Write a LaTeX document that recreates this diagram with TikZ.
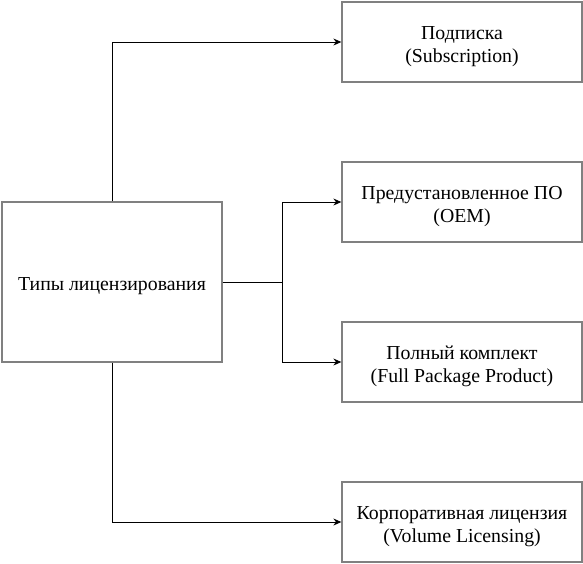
\documentclass[tikz,border=0pt]{standalone}
\usepackage{fontspec}
\setmainfont{Liberation Serif}
\usetikzlibrary{arrows.meta}
\begin{document}
\begin{tikzpicture}[x=1pt,y=-1pt,
  box/.style={draw=black!50, line width=1.3pt, fill=white, minimum width=240pt, minimum height=80pt, inner sep=0pt},
  txt/.style={align=center, inner sep=0pt, yshift=-4.5pt, font=\fontsize{19.8}{23}\selectfont},
  conn/.style={draw=black, line width=1pt, -{Stealth[length=8pt,width=7pt]}},
  link/.style={draw=black, line width=1pt}]
\useasboundingbox (0,0) rectangle (583,563);
\node[box, minimum width=220pt, minimum height=160pt, label={[txt]center:Типы лицензирования}] (main) at (112,282) {};
\node[box, label={[txt]center:Подписка\\(Subscription)}] (sub) at (462,42) {};
\node[box, label={[txt]center:Предустановленное ПО\\(OEM)}] (oem) at (462,202) {};
\node[box, label={[txt]center:Полный комплект\\(Full Package Product)}] (fpp) at (462,362) {};
\node[box, label={[txt]center:Корпоративная лицензия\\(Volume Licensing)}] (vol) at (462,522) {};
\coordinate (j) at (282,282);
\draw[conn] (main.north) |- (sub.west);
\draw[conn] (main.south) |- (vol.west);
\draw[link] (main.east) -- (j);
\draw[conn] (j) |- (oem.west);
\draw[conn] (j) |- (fpp.west);
\end{tikzpicture}
\end{document}
